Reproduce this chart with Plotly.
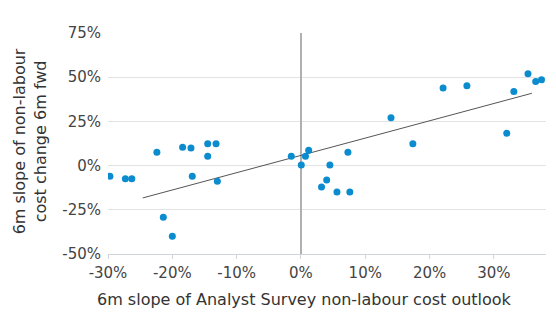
import plotly.graph_objects as go

# 6m slope of Analyst Survey non-labour cost outlook (%)
survey_slope = [-29.7, -27.3, -26.3, -22.4, -21.4, -20.0, -18.4, -17.1, -16.9,
                -14.5, -14.5, -13.2, -13.0, -1.5, 0.05, 0.7, 1.2, 3.2, 4.0,
                4.5, 5.6, 7.3, 7.6, 14.0, 17.4, 22.1, 25.8, 32.0, 33.1, 35.3,
                36.5, 37.4]
# 6m slope of non-labour cost change, 6m forward (%)
cost_change_fwd = [-6.0, -7.5, -7.5, 7.5, -29.2, -40.0, 10.4, 10.0, -6.0,
                   12.4, 5.3, 12.4, -8.9, 5.3, 0.4, 5.3, 8.7, -12.1, -8.1,
                   0.4, -14.9, 7.5, -14.9, 27.1, 12.3, 43.9, 45.1, 18.3, 41.9,
                   52.0, 47.5, 48.6]

# Linear trend line endpoints
trend_x = [-24.6, 35.9]
trend_y = [-18.3, 40.9]

x_ticks = [-30, -20, -10, 0, 10, 20, 30]
x_tick_labels = ["-30%", "-20%", "-10%", "0%", "10%", "20%", "30%"]
y_ticks = [-50, -25, 0, 25, 50, 75]
y_tick_labels = ["-50%", "-25%", "0%", "25%", "50%", "75%"]

X_TITLE = "6m slope of Analyst Survey non-labour cost outlook"
Y_TITLE = "6m slope of non-labour<br>cost change 6m fwd"

FONT = "'DejaVu Sans', sans-serif"

fig = go.Figure()
fig.add_trace(go.Scatter(
    x=trend_x, y=trend_y, mode="lines",
    line=dict(color="#555555", width=1),
    hoverinfo="skip", showlegend=False,
))
fig.add_trace(go.Scatter(
    x=survey_slope, y=cost_change_fwd, mode="markers",
    marker=dict(color="#0a8ccf", size=7),
    showlegend=False,
))

fig.update_layout(
    width=556, height=328,
    margin=dict(l=108, r=10, t=33, b=74),
    paper_bgcolor="white", plot_bgcolor="white",
    font=dict(family=FONT, size=15, color="#444444"),
    xaxis=dict(
        range=[-30, 38.1],
        tickvals=x_ticks, ticktext=x_tick_labels,
        showgrid=False,
        zeroline=True, zerolinecolor="#b0b0b0", zerolinewidth=2,
        showline=True, linecolor="#d0d4dc", linewidth=1,
        ticks="outside", ticklen=4, tickcolor="#d0d4dc",
        ticklabelstandoff=1,
    ),
    yaxis=dict(
        range=[-50, 75],
        tickvals=y_ticks, ticktext=y_tick_labels,
        showgrid=True, gridcolor="#e3e3e3", gridwidth=1,
        zeroline=False, showline=False,
        ticklabelstandoff=6,
    ),
    annotations=[
        dict(text=X_TITLE, xref="paper", yref="paper",
             x=0.4475, y=-0.204, xanchor="center", yanchor="middle",
             showarrow=False, font=dict(size=16, color="#333333")),
        dict(text=Y_TITLE, xref="paper", yref="paper",
             x=-0.179, y=0.508, xanchor="center", yanchor="middle",
             textangle=-90, showarrow=False,
             font=dict(size=16, color="#333333")),
    ],
)

fig.write_html("out.html")
